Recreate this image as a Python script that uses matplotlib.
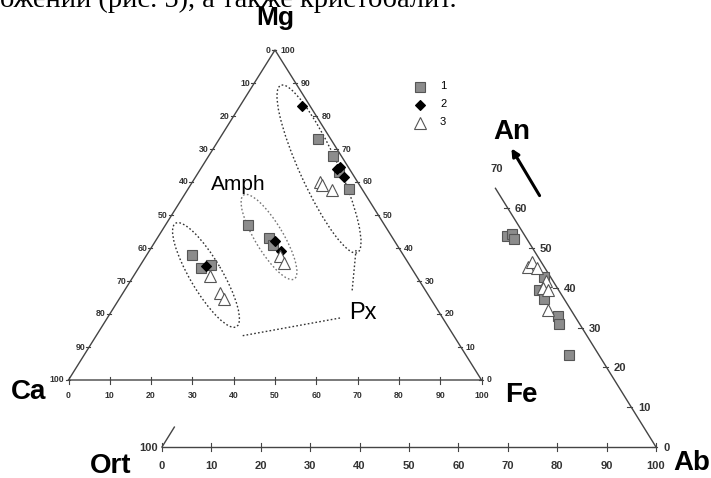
import matplotlib
matplotlib.use("Agg")
import matplotlib.pyplot as plt
from matplotlib.patches import Ellipse

# --- data: pyroxene / amphibole (Ca, Mg, Fe), in % ---
ca_1 = [3, 2, 3, 3, 33, 30, 30, 51, 51, 48]
mg_1 = [73, 68, 63, 58, 47, 43, 41, 38, 34, 35]
fe_1 = [24, 30, 34, 39, 20, 27, 29, 11, 15, 17]

ca_2 = [2, 3, 2, 2.5, 29, 29, 49.5]
mg_2 = [83, 64, 64.5, 61.5, 42, 39, 34.5]
fe_2 = [15, 33, 33.5, 36, 29, 32, 16]

ca_3 = [9, 9, 7.5, 30, 30, 50, 50, 50]
mg_3 = [60, 59, 57.5, 37.5, 35.5, 31.5, 26.5, 24.5]
fe_3 = [31, 32, 35, 32.5, 34.5, 18.5, 23.5, 25.5]

# --- data: feldspar (Ort, Ab, An), in % ---
ort_1 = [3.7, 2.4, 2.6, 1.4, 4.0, 4.0, 3.4, 4.1, 6.1]
ab_1 = [43.3, 44.1, 45.1, 56.0, 56.6, 58.7, 63.7, 65.0, 70.9]
an_1 = [53.0, 53.5, 52.3, 42.6, 39.4, 37.3, 32.9, 30.9, 23.0]

ort_3 = [3.2, 1.8, 1.6, 1.4, 2.9, 2.1, 4.6]
ab_3 = [51.5, 51.7, 53.4, 56.8, 57.2, 58.5, 61.0]
an_3 = [45.3, 46.5, 45.0, 41.8, 39.9, 39.4, 34.4]

ticks = list(range(0, 101, 10))
legend_labels = ["1", "2", "3"]

# triangle corners on the canvas (pixels)
CA = (68.5, 380.0)
FE = (481.5, 380.0)
MG = (275.0, 50.0)
ORT = (162.0, 447.0)
AB = (656.0, 447.0)
AN = (409.0, 49.0)

LINE = "#444444"
SANS = "Liberation Sans"


def bary(p0, p1, p2, a, b, c):
    if hasattr(a, "__len__"):
        out = [bary(p0, p1, p2, x, y, z) for x, y, z in zip(a, b, c)]
        return [o[0] for o in out], [o[1] for o in out]
    s = a + b + c
    x = (p0[0] * a + p1[0] * b + p2[0] * c) / s
    y = (p0[1] * a + p1[1] * b + p2[1] * c) / s
    return x, y


def main_xy(ca, mg, fe):
    return bary(CA, MG, FE, ca, mg, fe)


def fsp_xy(ort, ab, an):
    return bary(ORT, AB, AN, ort, ab, an)


fig = plt.figure(figsize=(7.11, 4.78), dpi=100)
ax = fig.add_axes([0, 0, 1, 1])
ax.set_xlim(0, 711)
ax.set_ylim(478, 0)
ax.axis("off")

# text line cut from the page above
ax.text(0, 7, "ожений (рис. 5), а также кристобалит.", family="Liberation Serif",
        fontsize=20.5, ha="left", va="baseline")

# ---- main triangle ----
ax.plot([CA[0], FE[0], MG[0], CA[0]], [CA[1], FE[1], MG[1], CA[1]], color=LINE, lw=1)
lab = dict(fontsize=6.3, family=SANS, weight="bold", va="center", color="#333333")
for v in ticks:
    x, y = main_xy(100 - v, 0, v)
    ax.plot([x, x], [y - 3.5, y + 3.5], color=LINE, lw=0.8)
    ax.text(x, y + 16, str(v), ha="center", **lab)
    x, y = main_xy(v, 100 - v, 0)
    ax.plot([x - 3, x + 1], [y, y], color=LINE, lw=0.8)
    ax.text(x - 4, y, str(v), ha="right", **lab)
    x, y = main_xy(0, v, 100 - v)
    ax.plot([x - 3, x + 1], [y, y], color=LINE, lw=0.8)
    ax.text(x + 5, y, str(v), ha="left", **lab)

# fields
dot = (0, (1.2, 1.6))
for cx, cy, w, h, ang, col in [(319, 169, 184, 38, 65.4, "#333333"),
                               (269, 237, 98, 28, 59, "#777777"),
                               (206, 275, 120, 32, 59.5, "#333333")]:
    ax.add_patch(Ellipse((cx, cy), w, h, angle=ang, fill=False, ec=col,
                         lw=1, ls=dot))
ax.plot([356, 352], [250, 292], color="#333333", lw=1, ls=dot)
ax.plot([340, 241], [318, 336], color="#333333", lw=1, ls=dot)
ax.text(238, 184, "Amph", fontsize=15, family=SANS, ha="center", va="center")
ax.text(363, 313, "Px", fontsize=17, family=SANS, ha="center", va="center")

sq = dict(marker="s", ms=6.5, mfc="#8c8c8c", mec="#555555", mew=0.8, ls="none")
dia = dict(marker="D", ms=5, mfc="black", mec="black", mew=0.8, ls="none")
tri = dict(marker="^", ms=8.5, mfc="white", mec="#555555", mew=0.8, ls="none")

ax.plot(*main_xy(ca_1, mg_1, fe_1), **sq)
ax.plot(*main_xy(ca_2, mg_2, fe_2), **dia)
ax.plot(*main_xy(ca_3, mg_3, fe_3), **tri)

# legend
for i, (st, name) in enumerate(zip([sq, dia, tri], legend_labels)):
    ax.plot([419.5], [87 + 18 * i], **st)
    ax.text(440, 86 + 18 * i, name, fontsize=8, family=SANS, ha="left", va="center")

ax.text(275, 18, "Mg", fontsize=19, family=SANS, weight="bold", ha="center", va="center")
ax.text(29, 392, "Ca", fontsize=20, family=SANS, weight="bold", ha="center", va="center")
ax.text(521, 395, "Fe", fontsize=20, family=SANS, weight="bold", ha="center", va="center")

# ---- feldspar triangle (partial) ----
ax.plot([ORT[0], AB[0]], [ORT[1], AB[1]], color=LINE, lw=1)
x, y = fsp_xy([100, 95], [0, 0], [0, 5])
ax.plot(x, y, color=LINE, lw=1)
x, y = fsp_xy([0, 0], [100, 35], [0, 65])
ax.plot(x, y, color=LINE, lw=1)
flab = dict(fontsize=8, family=SANS, weight="bold", va="center", color="#333333")
for v in ticks:
    x, y = fsp_xy(100 - v, v, 0)
    ax.plot([x, x], [y - 4, y + 4], color=LINE, lw=0.8)
    ax.text(x, y + 19, str(v), ha="center", **flab)
for v in ticks[:8]:
    x, y = fsp_xy(0, 100 - v, v)
    if v <= 60:
        ax.plot([x - 4, x + 1], [y, y], color=LINE, lw=0.8)
    ax.text(x + 7, y + 1, str(v), ha="left", **flab)
x, y = fsp_xy(100, 0, 0)
ax.text(x - 4, y + 1, "100", ha="right", **flab)

ax.plot(*fsp_xy(ort_1, ab_1, an_1), **sq)
ax.plot(*fsp_xy(ort_3, ab_3, an_3), **tri)

ax.annotate("", xy=(510, 146), xytext=(541, 198),
            arrowprops=dict(arrowstyle="-|>", lw=2.2, color="black", mutation_scale=11))

ax.text(512, 132, "An", fontsize=20, family=SANS, weight="bold", ha="center", va="center")
ax.text(111, 466, "Ort", fontsize=20, family=SANS, weight="bold", ha="center", va="center")
ax.text(692, 463, "Ab", fontsize=20, family=SANS, weight="bold", ha="center", va="center")

fig.savefig("out.png", dpi=100)
